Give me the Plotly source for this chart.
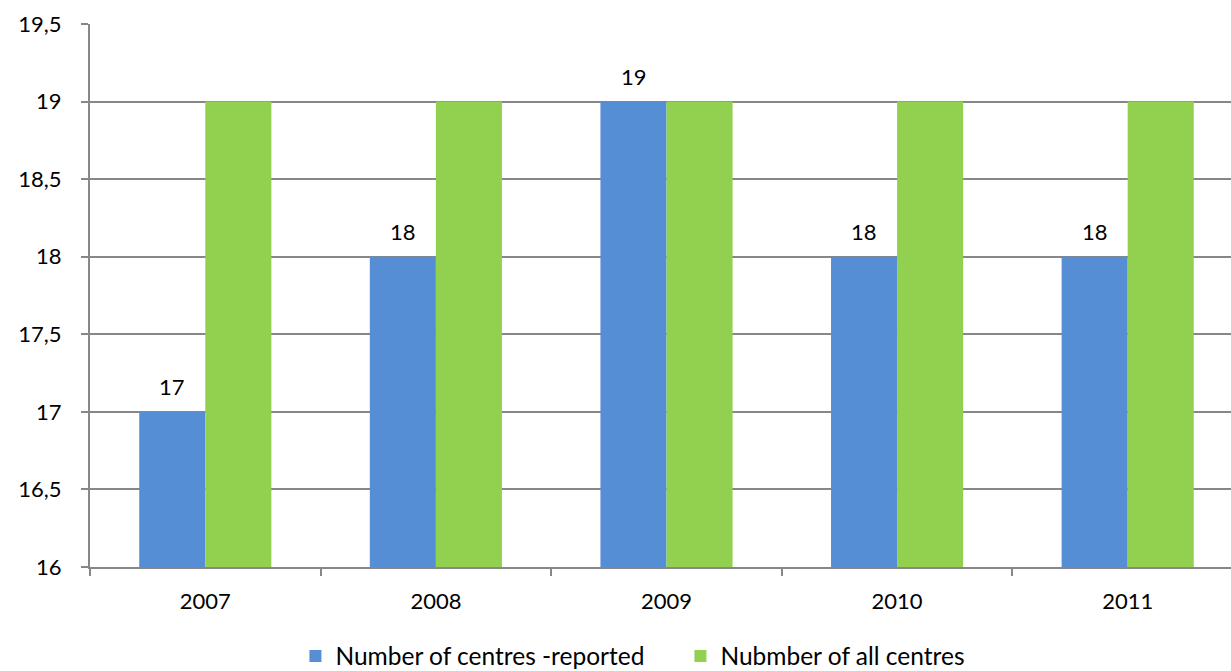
import plotly.graph_objects as go

years = ["2007", "2008", "2009", "2010", "2011"]
reported = [17, 18, 19, 18, 18]
all_centres = [19, 19, 19, 19, 19]
series_names = ["Number of centres -reported", "Nubmber of all centres"]

FONT = "Lato, Carlito, 'Open Sans', sans-serif"
grid = "#878787"

fig = go.Figure()
fig.add_trace(go.Bar(x=years, y=reported, name=series_names[0], marker=dict(color="#558ED5", line=dict(width=0))))
fig.add_trace(go.Bar(x=years, y=all_centres, name=series_names[1], marker=dict(color="#92D050", line=dict(width=0))))

for i, v in enumerate(reported):
    fig.add_annotation(x=i, y=v, xref="x", yref="y", text=str(v), showarrow=False,
                       xshift=-33, yshift=25,
                       font=dict(family=FONT, size=22, color="#000000"))

fig.update_layout(
    width=1231, height=671,
    margin=dict(l=90, r=0, t=24, b=104),
    paper_bgcolor="white", plot_bgcolor="white",
    separators=",.",
    barmode="group", bargap=0.427, bargroupgap=0,
    font=dict(family=FONT, size=22, color="#000000"),
    showlegend=True,
    legend=dict(orientation="h", xref="container", yref="container",
                x=0.24, xanchor="left", y=15 / 671, yanchor="middle",
                entrywidth=340, entrywidthmode="pixels",
                font=dict(family=FONT, size=24.5)),
)
fig.update_xaxes(
    type="category",
    range=[-0.5, 4.448], showgrid=False, showline=True, linecolor=grid, linewidth=2,
    ticks="outside", tickson="boundaries", ticklen=7, tickcolor=grid, tickwidth=2,
    ticklabelstandoff=14,
)
fig.update_yaxes(
    range=[16, 19.5], dtick=0.5, tick0=16, showgrid=True, gridcolor=grid, gridwidth=1.5,
    showline=True, linecolor=grid, linewidth=2, zeroline=False,
    ticks="outside", ticklen=7, tickcolor=grid, tickwidth=2, ticklabelstandoff=15,
)
fig.write_html("out.html", config={"displayModeBar": False})
with open("out.html", "r", encoding="utf-8") as f:
    html = f.read()
html = html.replace("<head>", "<head><style>html,body{margin:0;padding:0;overflow:hidden;}</style>", 1)
with open("out.html", "w", encoding="utf-8") as f:
    f.write(html)
